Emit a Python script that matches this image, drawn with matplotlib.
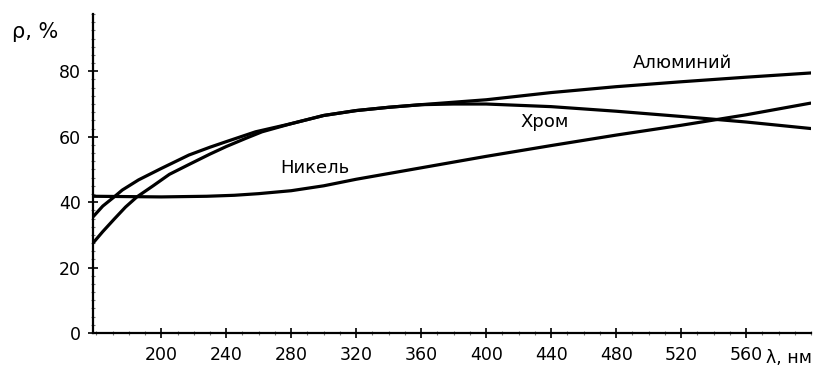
import matplotlib.pyplot as plt
from matplotlib.ticker import MultipleLocator

plt.rcParams['font.family'] = ['DejaVu Sans']

# wavelength, nm / reflectance, %
al_nm = [158, 164, 171, 178, 185, 195, 205, 217, 230, 240, 252, 262, 280, 300, 320, 340, 360, 400, 440, 480, 520, 560, 600]
al_r = [27.5, 31, 34.8, 38.5, 41.6, 45, 48.5, 51.5, 54.7, 57, 59.5, 61.5, 64, 66.5, 68, 69, 69.8, 71.3, 73.5, 75.3, 76.8, 78.2, 79.5]

cr_nm = [158, 164, 171, 176, 186, 200, 217, 230, 240, 258, 280, 300, 320, 340, 360, 380, 400, 440, 480, 520, 560, 600]
cr_r = [35.5, 38.8, 41.6, 43.7, 46.8, 50.3, 54.4, 56.8, 58.5, 61.5, 64, 66.5, 68, 69, 69.8, 70, 70, 69.2, 67.8, 66.2, 64.5, 62.5]

ni_nm = [158, 200, 228, 245, 260, 280, 300, 320, 360, 400, 440, 480, 520, 560, 600]
ni_r = [41.8, 41.6, 41.8, 42.1, 42.6, 43.5, 45, 47, 50.5, 54, 57.3, 60.5, 63.5, 66.7, 70.3]

xticks = [200, 240, 280, 320, 360, 400, 440, 480, 520, 560]
yticks = [0, 20, 40, 60, 80]

fig = plt.figure(figsize=(8.16, 3.70), dpi=100)
ax = fig.add_axes([0.114, 0.1, 0.88, 0.862])

for xs, ys in [(al_nm, al_r), (cr_nm, cr_r), (ni_nm, ni_r)]:
    ax.plot(xs, ys, color='black', lw=2.3, solid_capstyle='butt')

ax.set_xlim(158, 600)
ax.set_ylim(0, 97.5)
ax.set_xticks(xticks)
ax.set_yticks(yticks)
ax.xaxis.set_minor_locator(MultipleLocator(10))
ax.yaxis.set_minor_locator(MultipleLocator(2.5))
ax.tick_params(which='major', direction='inout', length=7, width=1.2, labelsize=12.5, colors='black')
ax.tick_params(which='minor', direction='inout', length=2.5, width=0.8, color='#777777')
ax.tick_params(axis='x', pad=6)
ax.tick_params(axis='y', pad=5)
for s in ['top', 'right']:
    ax.spines[s].set_visible(False)
for s in ['left', 'bottom']:
    ax.spines[s].set_linewidth(1.6)

fig.text(633 / 816, 1 - 63 / 370, 'Алюминий', fontsize=13, ha='left', va='center')
fig.text(520 / 816, 1 - 122 / 370, 'Хром', fontsize=13, ha='left', va='center')
fig.text(280 / 816, 1 - 168 / 370, 'Никель', fontsize=13, ha='left', va='center')
fig.text(12 / 816, 1 - 32 / 370, 'ρ, %', fontsize=15, ha='left', va='center')
fig.text(766 / 816, 1 - 358 / 370, 'λ, нм', fontsize=12.5, ha='left', va='center')

fig.savefig('out.png', dpi=100)
